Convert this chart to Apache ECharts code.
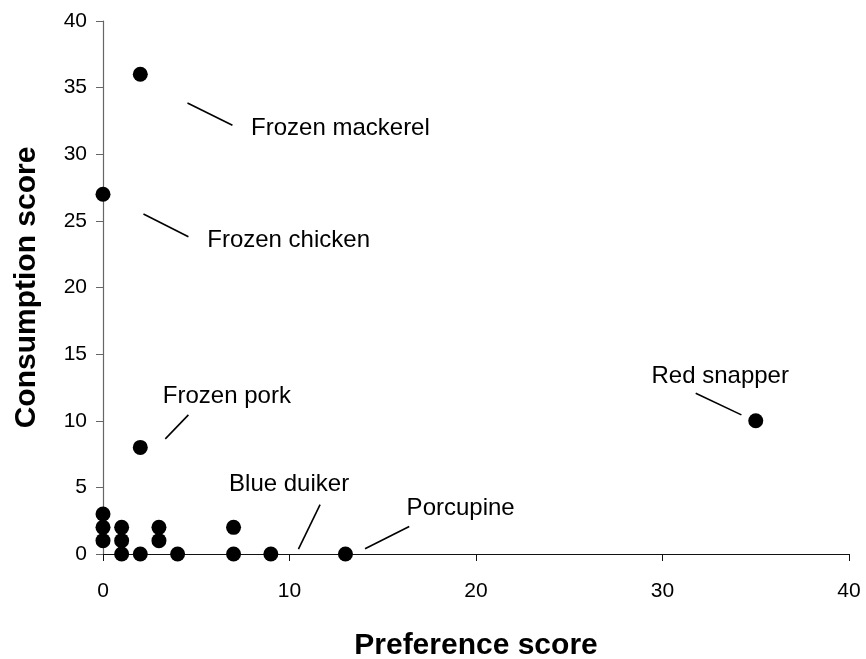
<!DOCTYPE html>
<html>
<head>
<meta charset="utf-8">
<script src="https://cdn.jsdelivr.net/npm/echarts@6/dist/echarts.min.js"></script>
<style>
html,body{margin:0;padding:0;background:#fff;}
#chart{width:866px;height:659px;}
</style>
</head>
<body>
<div id="chart"></div>
<script>
// Data points: [preference score, consumption score]
const preference  = [0, 0, 0, 1, 1, 1, 2, 3, 3, 4, 7, 7, 9, 13, 2, 0, 2, 35];
const consumption = [3, 2, 1, 2, 1, 0, 0, 2, 1, 0, 2, 0, 0, 0, 8, 27, 36, 10];

// Annotation labels (anchor = left/middle of text, in data units)
const labelNames = ['Frozen mackerel', 'Frozen chicken', 'Frozen pork', 'Red snapper', 'Blue duiker', 'Porcupine'];
const labelX = [7.94, 5.59, 3.21, 29.41, 6.76, 16.28];
const labelY = [31.96, 23.56, 11.81, 13.31, 5.19, 3.45];

// Leader lines (data units): start -> end
const leaderX1 = [4.53, 2.17, 4.58, 31.78, 11.64, 16.42];
const leaderY1 = [33.85, 25.51, 10.44, 12.07, 3.70, 2.07];
const leaderX2 = [6.94, 4.58, 3.34, 34.23, 10.48, 14.05];
const leaderY2 = [32.18, 23.81, 8.64, 10.44, 0.37, 0.40];

const xTicks = [0, 10, 20, 30, 40];
const yTicks = [0, 5, 10, 15, 20, 25, 30, 35, 40];

const FONT = '"Liberation Sans", Arial, sans-serif';

const points = preference.map((p, i) => [p, consumption[i]]);
const labelData = labelNames.map((n, i) => ({ name: n, value: [labelX[i], labelY[i]] }));
const lineData = leaderX1.map((x, i) => [
  { coord: [x, leaderY1[i]] },
  { coord: [leaderX2[i], leaderY2[i]] }
]);

const chart = echarts.init(document.getElementById('chart'));
chart.setOption({
  animation: false,
  backgroundColor: '#ffffff',
  grid: { left: 103, right: 17, top: 21, bottom: 105, containLabel: false, outerBoundsMode: 'none' },
  xAxis: {
    type: 'value', min: 0, max: 40, interval: 10,
    name: 'Preference score', nameLocation: 'middle', nameGap: 77,
    nameTextStyle: { fontFamily: FONT, fontSize: 30, fontWeight: 'bold', color: '#000' },
    axisLine: { show: true, onZero: false, lineStyle: { color: '#111', width: 1.2 } },
    axisTick: { show: true, inside: false, length: 7, lineStyle: { color: '#111' } },
    axisLabel: { fontFamily: FONT, fontSize: 21, color: '#000', margin: 27 },
    splitLine: { show: false }
  },
  yAxis: {
    type: 'value', min: 0, max: 40, interval: 5,
    name: 'Consumption score', nameLocation: 'middle', nameGap: 61, nameRotate: 90,
    nameTextStyle: { fontFamily: FONT, fontSize: 30, fontWeight: 'bold', color: '#000' },
    axisLine: { show: true, onZero: false, lineStyle: { color: '#666', width: 1.2 } },
    axisTick: { show: true, inside: false, length: 7, lineStyle: { color: '#666' } },
    axisLabel: { fontFamily: FONT, fontSize: 21, color: '#000', margin: 16 },
    splitLine: { show: false }
  },
  series: [
    {
      type: 'scatter',
      data: points,
      symbol: 'circle',
      symbolSize: 15,
      itemStyle: { color: '#000', opacity: 1 },
      z: 5,
      markLine: {
        silent: true,
        symbol: ['none', 'none'],
        label: { show: false },
        lineStyle: { color: '#000', width: 1.6, type: 'solid', opacity: 1 },
        data: lineData
      }
    },
    {
      type: 'scatter',
      data: labelData,
      symbolSize: 0,
      silent: true,
      itemStyle: { opacity: 1 },
      label: {
        show: true,
        position: 'right',
        distance: 0,
        formatter: p => p.name,
        fontFamily: FONT,
        fontSize: 24,
        color: '#000',
        opacity: 1,
        align: 'left',
        verticalAlign: 'middle'
      }
    }
  ]
});
</script>
</body>
</html>
